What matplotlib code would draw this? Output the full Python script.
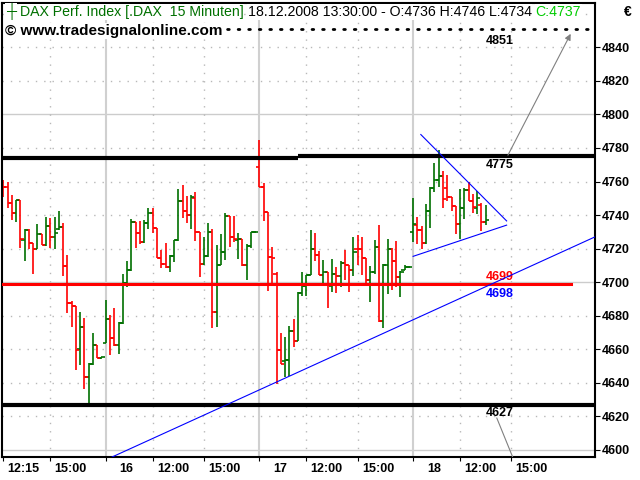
import matplotlib
matplotlib.use("Agg")
import matplotlib.pyplot as plt
import numpy as np
from matplotlib.transforms import ScaledTranslation

plt.rcParams['font.family'] = ['Liberation Sans', 'DejaVu Sans']

# 15 minute OHLC bars, 15.12. 12:15 ... 18.12. 13:30
opens = [4758, 4757, 4747, 4741.5, 4749, 4725, 4731, 4723.5, 4719.5, 4728.5,
         4722, 4733.5, 4727, 4731.5, 4733, 4709.5, 4687.5, 4686, 4660, 4673.5,
         4643.5, 4651, 4662.5, 4655,
         4664, 4678, 4666.5, 4662.5, 4675.5, 4699.5, 4707, 4736, 4729.5, 4724,
         4735, 4741, 4732, 4714.5, 4711, 4709, 4715.5, 4725, 4748.5, 4742.5,
         4740, 4750, 4730, 4711, 4715.5, 4730, 4682, 4710.5, 4718, 4739.5,
         4727, 4725, 4726, 4710, 4721.5, 4730,
         4768.5, 4757, 4742, 4715, 4705, 4659.5, 4653, 4653.5, 4671, 4665,
         4693.5, 4697.5, 4704, 4720, 4716, 4704.5, 4706, 4698, 4705, 4703.5,
         4711.5, 4710, 4707, 4720, 4719.5, 4714.5, 4701.5, 4706, 4721, 4677,
         4710.5, 4720, 4712.5, 4703, 4707.5, 4709,
         4730, 4734, 4731, 4723.5, 4742.5, 4756, 4761, 4763, 4756, 4751,
         4745.5, 4734.5, 4744.5, 4755, 4748.5, 4744, 4746, 4736]
highs = [4761, 4760, 4752, 4749, 4749, 4731.5, 4731.5, 4723.5, 4734.5, 4729,
         4739, 4738, 4739, 4742.5, 4735, 4716, 4688.5, 4686, 4682, 4678.5,
         4652, 4670, 4662.5, 4655.5,
         4689.5, 4680.5, 4684.5, 4676, 4705, 4712.5, 4737.5, 4736, 4736.5, 4737,
         4744, 4744.5, 4732, 4719, 4723.5, 4716, 4725, 4755.5, 4758, 4751.5,
         4752, 4754, 4730, 4727, 4735, 4731.5, 4722, 4728.5, 4741, 4739.5,
         4739.5, 4729.5, 4726, 4723, 4730, 4730.5,
         4784.5, 4759, 4742, 4721, 4706, 4670, 4667.5, 4674, 4678, 4694,
         4706, 4704.5, 4731, 4729.5, 4718.5, 4713, 4706, 4714, 4709, 4712.5,
         4719, 4710, 4727, 4728, 4727, 4714.5, 4709.5, 4725, 4734, 4711,
         4725.5, 4720.5, 4724.5, 4706.5, 4710, 4709.5,
         4750, 4739, 4733.5, 4746.5, 4757, 4771, 4778.5, 4766, 4764, 4751,
         4745.5, 4755.5, 4756, 4760, 4752.5, 4754.5, 4747, 4746]
lows = [4751, 4744, 4737, 4736, 4720.5, 4712.5, 4720, 4705, 4719.5, 4722,
        4721.5, 4720.5, 4720, 4731, 4703.5, 4681.5, 4673.5, 4647.5, 4650.5, 4636.5,
        4627, 4650.5, 4655, 4654.5,
        4663.5, 4656.5, 4662, 4657, 4675, 4697, 4706.5, 4720.5, 4722.5, 4723.5,
        4731.5, 4729.5, 4714.5, 4708.5, 4708.5, 4706, 4712, 4724.5, 4738.5, 4735,
        4731.5, 4724.5, 4703, 4710.5, 4715, 4672.5, 4673.5, 4710.5, 4713, 4721,
        4724, 4714, 4709.5, 4701.5, 4720.5, 4729.5,
        4757, 4736.5, 4695, 4699.5, 4639.5, 4651, 4643.5, 4644, 4661.5, 4665,
        4691.5, 4692, 4704, 4712.5, 4704, 4699.5, 4684.5, 4694, 4693.5, 4697,
        4701.5, 4694, 4703.5, 4710.5, 4704.5, 4697.5, 4688, 4705, 4676.5, 4672.5,
        4693, 4695.5, 4697, 4691, 4707.5, 4708.5,
        4724, 4723, 4720, 4723, 4732, 4753.5, 4757, 4744.5, 4748.5, 4742.5,
        4729, 4725.5, 4737.5, 4748.5, 4741.5, 4740.5, 4730.5, 4734]
closes = [4757, 4747, 4741.5, 4749, 4725.5, 4731, 4723.5, 4719.5, 4728.5, 4722,
          4733.5, 4727, 4729.5, 4733, 4709.5, 4687.5, 4686, 4659.5, 4673.5, 4643.5,
          4651, 4662.5, 4655, 4655.5,
          4678, 4666.5, 4662.5, 4675.5, 4699.5, 4707, 4736, 4729.5, 4724, 4735,
          4741, 4732, 4714.5, 4711, 4709, 4715.5, 4725, 4748.5, 4742.5, 4740,
          4751, 4730, 4711, 4715.5, 4730, 4682, 4710.5, 4718, 4739.5, 4727,
          4725.5, 4726, 4710, 4721.5, 4730, 4730,
          4757, 4742, 4715, 4714.5, 4659.5, 4651, 4653.5, 4671, 4665, 4693.5,
          4697.5, 4704, 4720, 4716, 4704.5, 4706, 4699, 4705, 4703.5, 4711.5,
          4710, 4707, 4718, 4719.5, 4714.5, 4701.5, 4706, 4721, 4677, 4710.5,
          4720, 4712.5, 4703, 4706, 4709, 4709,
          4734.5, 4731, 4723.5, 4742.5, 4756, 4761, 4763, 4749.5, 4751, 4745.5,
          4734.5, 4744.5, 4755, 4748.5, 4745, 4750, 4736, 4737]

tick_pos = [0, 11, 24, 35, 47, 60, 71, 83, 96, 107, 119]
tick_labels = ["12:15", "15:00", "16", "12:00", "15:00", "17", "12:00", "15:00",
               "18", "12:00", "15:00"]
day_starts = [24, 60, 96]

# drawn levels
resist = 4775
support = 4627
mid = 4699
target = 4851
trend = [(61, 4637), (138.6, 4727)]
tri_top = [(97.8, 4788), (117.9, 4736.5)]
tri_bot = [(96.0, 4715.4), (117.9, 4734)]

fig = plt.figure(figsize=(6.4, 4.8), dpi=100)
ax = fig.add_axes([1.5/640, 23/480, 593.5/640, 454/480])
ax.set_xlim(-0.42, 138.6)
ax.set_ylim(4595.8, 4866.4)

# grid
for v in range(4600, 4861, 20):
    if v % 100 == 0:
        ax.axhline(v, color="#cccccc", lw=1, zorder=0)
    else:
        ax.axhline(v, color="#b8b8b8", lw=1, ls=(0, (1, 5)), zorder=0)
for p in tick_pos:
    if p in day_starts:
        ax.axvline(p, color="#d0d0d0", lw=1.5, zorder=0)
    elif p > 0:
        ax.axvline(p, color="#b8b8b8", lw=1, ls=(0, (1, 5)), zorder=0)

idx = np.arange(len(opens))
o = np.array(opens); c = np.array(closes)
cols = np.where(c >= o, "#007000", "#ff0000")
ax.vlines(idx, lows, highs, colors=cols, lw=1.2, zorder=2)
ax.hlines(o, idx - 0.75, idx, colors=cols, lw=1.2, zorder=2)
ax.hlines(c, idx, idx + 0.75, colors=cols, lw=1.2, zorder=2)

# horizontal levels
ax.plot([-0.42, 69], [4774.2, 4774.2], color="black", lw=3, solid_capstyle="butt", zorder=3)
ax.plot([69, 138.6], [resist, resist], color="black", lw=3, solid_capstyle="butt", zorder=3)
ax.axhline(support, color="black", lw=3, zorder=3)
ax.plot([-0.42, 133], [mid, mid], color="#ff0000", lw=2.2, zorder=3)
ax.plot([3, 138.6], [target, target], color="black", lw=2, ls=(0, (0.6, 3.2)),
        dash_capstyle="round", zorder=3)

# trend lines
ax.axline(trend[0], trend[1], color="#0000ff", lw=0.8, zorder=4)
for ln in (tri_top, tri_bot):
    ax.plot([ln[0][0], ln[1][0]], [ln[0][1], ln[1][1]], color="#0000ff", lw=0.8, zorder=4)

# arrows
ax.annotate("", xy=(133.2, 4849.5), xytext=(117.9, 4774.2),
            arrowprops=dict(arrowstyle="-|>", color="#808080", lw=0.8, mutation_scale=9),
            zorder=4)
ax.plot([115.6, 119.6], [4619, 4594], color="#808080", lw=0.8, zorder=4)

lab = dict(ha="center", va="center", fontsize=9, fontweight="bold")
ax.text(116.2, 4843.5, "4851", color="black", **lab)
ax.text(116.2, 4770, "4775", color="black", **lab)
ax.text(116.2, 4703, "4699", color="#ff0000", **lab)
ax.text(116.2, 4693, "4698", color="#0000ff", **lab)
ax.text(116.2, 4622, "4627", color="black", **lab)

# axes styling
for s in ax.spines.values():
    s.set_linewidth(1.5)
ax.yaxis.tick_right()
ax.set_yticks(range(4600, 4841, 20))
ax.set_yticklabels([str(v) for v in range(4600, 4841, 20)], fontsize=9, fontweight="bold")
ax.tick_params(axis="y", direction="out", length=3.5, width=0.8, pad=1)
ax.set_xticks(tick_pos)
ax.set_xticklabels(tick_labels, fontsize=9, fontweight="bold")
ax.tick_params(axis="x", direction="out", length=3, width=0.8, pad=1)
for lbl in ax.get_xticklabels():
    lbl.set_ha("left")
    dx = 10 if len(lbl.get_text()) == 2 else 3
    lbl.set_transform(lbl.get_transform() + ScaledTranslation(dx/72, 0, fig.dpi_scale_trans))

# header texts
fig.text(628/640, 1 - 12/480, "€", fontsize=10, fontweight="bold", ha="center", va="center")
fig.text(5/640, 1 - 31/480, "© www.tradesignalonline.com", fontsize=11, fontweight="bold",
         va="center", bbox=dict(fc="white", ec="none", pad=0.5))

renderer = fig.canvas.get_renderer()
parts = [("┼", "#007000"), ("DAX Perf. Index [.DAX  15 Minuten]", "#007000"),
         ("18.12.2008 13:30:00 - O:4736 H:4746 L:4734", "black"), ("C:4737", "#00cc00")]
x = 6/640
for s, col in parts:
    t = fig.text(x, 1 - 12/480, s, color=col, fontsize=10.2, va="center",
                 bbox=dict(fc="white", ec="none", pad=0.5))
    bb = t.get_window_extent(renderer)
    x = (bb.x1 + 4) / fig.bbox.width

fig.savefig("out.png", dpi=100)
